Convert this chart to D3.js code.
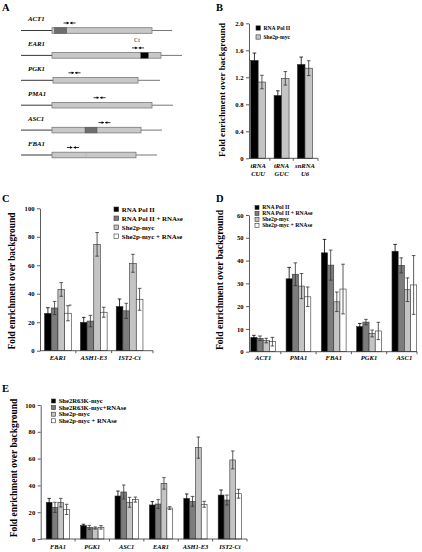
<!DOCTYPE html>
<html><head><meta charset="utf-8">
<script src="https://cdn.jsdelivr.net/npm/d3@7"></script>
<style>html,body{margin:0;padding:0;background:#fff;}svg{display:block;}</style>
</head><body>
<script>
// ---------- DATA ----------
// Panel A: gene diagrams (diagram units along the locus)
const genes = ["ACT1","EAR1","PGK1","PMA1","ASC1","FBA1"];
const locusEnd = [151,161,139,152,141,136];
const orfStart = [31,31,32,31,31,31];
const orfEnd   = [131,140,117,131,120,115];
const primerAt = [48.5,117,53.5,78.5,83.5,52];
const featGene = ["ACT1","EAR1","ASC1"];
const featStart = [33.5,119.7,64];
const featEnd   = [45.7,127.3,76];
const featKind  = ["dark","black","dark"];

// Panel B
const bCats = [["tRNA","CUU"],["tRNA","GUC"],["snRNA","U6"]];
const bSeries = ["RNA Pol II","She2p-myc"];
const bPolII = [1.45,0.93,1.39];
const bPolIIErr = [0.11,0.07,0.11];
const bShe2 = [1.13,1.185,1.335];
const bShe2Err = [0.10,0.10,0.11];
const bTicks = [0,0.4,0.8,1.2,1.6,2.0];

// Panel C
const cCats = ["EAR1","ASH1-E3","IST2-Ct"];
const cdSeries = ["RNA Pol II","RNA Pol II + RNAse","She2p-myc","She2p-myc + RNAse"];
const cPolII = [26.2,19.9,31.0];      const cPolIIErr = [4.0,3.5,5.3];
const cPolIIR = [30.0,20.8,28.0];     const cPolIIRErr = [4.6,4.0,5.3];
const cShe2 = [43.0,74.7,61.4];       const cShe2Err = [4.8,8.3,6.3];
const cShe2R = [26.3,27.0,36.1];      const cShe2RErr = [5.3,3.5,7.7];
const cTicks = [0,20,40,60,80,100];

// Panel D
const dCats = ["ACT1","PMA1","FBA1","PGK1","ASC1"];
const dPolII = [6.3,32.0,43.4,11.0,44.1];   const dPolIIErr = [0.9,5.0,5.9,1.4,3.0];
const dPolIIR = [5.9,34.0,38.0,13.0,37.9];  const dPolIIRErr = [1.0,5.0,6.6,1.2,3.3];
const dShe2 = [4.9,28.8,21.9,8.0,27.2];     const dShe2Err = [1.0,5.5,4.3,1.5,5.2];
const dShe2R = [4.4,24.1,27.5,9.1,29.3];    const dShe2RErr = [1.9,4.3,10.9,3.8,12.9];
const dTicks = [0,10,20,30,40,50,60];

// Panel E
const eCats = ["FBA1","PGK1","ASC1","EAR1","ASH1-E3","IST2-Ct"];
const eSeries = ["She2R63K-myc","She2R63K-myc+RNAse","She2p-myc","She2p-myc + RNAse"];
const eMut = [27.4,10.0,32.1,25.4,30.3,32.8];   const eMutErr = [2.9,1.0,3.7,2.5,3.3,3.8];
const eMutR = [23.6,8.7,35.1,26.1,28.1,29.1];   const eMutRErr = [3.8,1.5,5.2,3.3,3.7,3.7];
const eShe2 = [27.1,8.2,27.4,41.5,68.2,59.0];   const eShe2Err = [3.2,0.8,3.7,4.3,7.9,6.7];
const eShe2R = [22.1,8.7,29.4,23.1,25.9,33.8];  const eShe2RErr = [3.8,1.3,1.9,1.0,2.2,3.3];
const eTicks = [0,20,40,60,80,100];

const yTitle = "Fold enrichment over background";

// ---------- DRAWING ----------
const W = 422, H = 552;
const FONT = "'Liberation Serif','Times New Roman',Times,serif";
const svg = d3.select("body").append("svg").attr("width", W).attr("height", H)
  .style("font-family", FONT);
svg.append("rect").attr("width", W).attr("height", H).attr("fill", "#fff");

const fills4 = ["#000000","#7c7c7c","#c4c4c4","#ffffff"];
const fills2 = ["#000000","#c4c4c4"];

function panelLetter(t, x, y){
  svg.append("text").attr("x", x).attr("y", y).text(t)
    .attr("font-size", 10.5).attr("font-weight", "bold").attr("fill", "#000");
}

// Panel A
panelLetter("A", 2, 10.5);
(function(){
  const g = svg.append("g");
  const x = d3.scaleLinear().domain([0,161]).range([21,182]);
  const row = d3.scalePoint().domain(genes).range([30.5,155]);
  genes.forEach((name,i)=>{
    const yy = row(name);
    g.append("text").attr("x", 28).attr("y", yy-9.5).text(name)
      .attr("font-size", 6.8).attr("font-weight","bold").attr("font-style","italic");
    g.append("line").attr("x1", x(0)).attr("x2", x(orfStart[i])).attr("y1", yy).attr("y2", yy)
      .attr("stroke","#222").attr("stroke-width",0.9);
    g.append("line").attr("x1", x(orfEnd[i])).attr("x2", x(locusEnd[i])).attr("y1", yy).attr("y2", yy)
      .attr("stroke","#666").attr("stroke-width",0.9);
    g.append("rect").attr("x", x(orfStart[i])).attr("y", yy-2.8)
      .attr("width", x(orfEnd[i])-x(orfStart[i])).attr("height", 5.6)
      .attr("fill","#c8c8c8").attr("stroke","#7a7a7a").attr("stroke-width",0.8);
    // primer arrows
    const px = x(primerAt[i]), py = yy-7.5;
    const ar = (x1,x2)=>{
      g.append("line").attr("x1",x1).attr("x2",x2).attr("y1",py).attr("y2",py)
        .attr("stroke","#000").attr("stroke-width",0.8);
      const d = x2>x1 ? -1 : 1;
      g.append("path").attr("d",`M${x2},${py} L${x2+d*2.2},${py-1.4} L${x2+d*2.2},${py+1.4} Z`).attr("fill","#000");
    };
    ar(px-6, px-0.6); ar(px+6, px+0.6);
  });
  featGene.forEach((gn,k)=>{
    const yy = row(gn);
    g.append("rect").attr("x", x(featStart[k])).attr("y", yy-2.8)
      .attr("width", x(featEnd[k])-x(featStart[k])).attr("height", 5.6)
      .attr("fill", featKind[k]==="black" ? "#000" : "#6e6e6e")
      .attr("stroke","#555").attr("stroke-width",0.5);
  });
  // FBA1 faint divider
  g.append("line").attr("x1", x(65)).attr("x2", x(65)).attr("y1", row("FBA1")-2.8).attr("y2", row("FBA1")+2.8)
    .attr("stroke","#aaa").attr("stroke-width",0.5);
  g.append("text").attr("x", x(primerAt[1])-1).attr("y", row("EAR1")-13).text("Ct")
    .attr("font-size", 6.5).attr("text-anchor","middle").attr("fill","#333");
})();

function barPanel(o){
  const g = svg.append("g");
  const x0 = d3.scaleBand().domain(o.cats.map((c,i)=>i)).range(o.xr)
    .paddingInner(o.pi).paddingOuter(o.po).align(o.align ?? 0.5);
  const x1 = d3.scaleBand().domain(d3.range(o.vals.length)).range([0, x0.bandwidth()]);
  const y = d3.scaleLinear().domain(o.yd).range(o.yr);
  // y axis
  const ya = g.append("g").attr("transform", `translate(${o.ax},0)`)
    .call(d3.axisLeft(y).tickValues(o.ticks).tickFormat(o.fmt).tickSize(3).tickSizeOuter(0).tickPadding(2.5));
  ya.select(".domain").attr("stroke","#333").attr("stroke-width",0.8);
  ya.selectAll(".tick line").attr("stroke","#333").attr("stroke-width",0.8);
  ya.selectAll(".tick text").attr("font-family",FONT).attr("font-size",o.tickFs||6.6)
    .attr("font-weight","bold").attr("fill","#000");
  // bars
  o.vals.forEach((arr,s)=>{
    g.selectAll(null).data(arr).join("rect")
      .attr("x",(d,i)=>x0(i)+x1(s)).attr("width",x1.bandwidth())
      .attr("y",d=>y(d)).attr("height",d=>y(0)-y(d))
      .attr("fill",o.fills[s]).attr("stroke","#333").attr("stroke-width",0.6);
  });
  // error bars
  o.vals.forEach((arr,s)=>{
    const errs = o.errs[s];
    const cw = Math.min(3.6, x1.bandwidth()*0.6);
    arr.forEach((v,i)=>{
      const cx = x0(i)+x1(s)+x1.bandwidth()/2;
      const e = errs[i];
      const col = s===0 ? "#000" : "#333";
      g.append("line").attr("x1",cx).attr("x2",cx).attr("y1",y(v-e)).attr("y2",y(v+e))
        .attr("stroke",col).attr("stroke-width",0.8);
      [v-e, v+e].forEach(t=>{
        g.append("line").attr("x1",cx-cw/2).attr("x2",cx+cw/2).attr("y1",y(t)).attr("y2",y(t))
          .attr("stroke",col).attr("stroke-width",0.8);
      });
    });
  });
  // x axis baseline and slot ticks
  g.append("line").attr("x1",o.ax).attr("x2",o.xend).attr("y1",y(0)).attr("y2",y(0))
    .attr("stroke","#333").attr("stroke-width",0.8);
  const step = x0.step();
  o.cats.forEach((c,i)=>{
    if(i===0) return;
    const b = x0(i) - step*o.pi/2;
    g.append("line").attr("x1",b).attr("x2",b).attr("y1",y(0)).attr("y2",y(0)+2.5)
      .attr("stroke","#333").attr("stroke-width",0.8);
  });
  g.append("line").attr("x1",o.xend).attr("x2",o.xend).attr("y1",y(0)).attr("y2",y(0)+2.5)
    .attr("stroke","#333").attr("stroke-width",0.8);
  // category labels
  o.cats.forEach((c,i)=>{
    const cx = x0(i)+x0.bandwidth()/2;
    const lines = Array.isArray(c) ? c : [c];
    lines.forEach((ln,k)=>{
      g.append("text").attr("x",cx).attr("y",y(0)+o.labDy+k*7.6).text(ln)
        .attr("text-anchor","middle").attr("font-size",o.catFs||6.6)
        .attr("font-weight","bold").attr("font-style","italic");
    });
  });
  // y title
  g.append("text").attr("transform",`translate(${o.titleX},${o.titleY}) rotate(-90)`)
    .attr("text-anchor","middle").text(yTitle)
    .attr("font-size",o.titleFs).attr("font-weight","bold");
  // legend
  o.series.forEach((nm,s)=>{
    const ly = o.legY + s*o.legDy;
    g.append("rect").attr("x",o.legX).attr("y",ly-o.sq/2).attr("width",o.sq).attr("height",o.sq)
      .attr("fill",o.fills[s]).attr("stroke","#333").attr("stroke-width",0.6);
    g.append("text").attr("x",o.legX+o.sq+3.2).attr("y",ly+o.legFs*0.33).text(nm)
      .attr("font-size",o.legFs).attr("font-weight","bold");
  });
  return {x0,x1,y,g};
}

// Panel B
panelLetter("B", 216, 10.5);
barPanel({
  cats:bCats, vals:[bPolII,bShe2], errs:[bPolIIErr,bShe2Err], series:bSeries, fills:fills2,
  xr:[249,319.2], pi:0.36, po:0.18, align:0.2, xend:318,
  yd:[0,2.0], yr:[158.3,23.3], ax:249, ticks:bTicks, fmt:d=>d===0?"0":d3.format(".1f")(d),
  labDy:9.8, titleX:225, titleY:90, titleFs:9.2,
  legX:256, legY:28, legDy:9, sq:4.3, legFs:5.6
});

// Panel C
panelLetter("C", 2, 202);
const pc = barPanel({
  cats:cCats, vals:[cPolII,cPolIIR,cShe2,cShe2R], errs:[cPolIIErr,cPolIIRErr,cShe2Err,cShe2RErr],
  series:cdSeries, fills:fills4,
  xr:[40,147.5], pi:0.254, po:0.127, xend:153,
  yd:[0,100], yr:[350.7,208.3], ax:40, ticks:cTicks, fmt:d3.format("d"),
  labDy:9.6, titleX:15, titleY:281, titleFs:9.4,
  legX:114, legY:209.3, legDy:9, sq:4.6, legFs:6.9
});
// asterisk above EAR1 She2p-myc + RNAse
pc.g.append("text").attr("x", pc.x0(0)+pc.x1(3)+pc.x1.bandwidth()/2+2)
  .attr("y", pc.y(cShe2R[0]+cShe2RErr[0])+2.5).text("*")
  .attr("font-size",7).attr("text-anchor","middle").attr("fill","#444");

// Panel D
panelLetter("D", 216, 202);
barPanel({
  cats:dCats, vals:[dPolII,dPolIIR,dShe2,dShe2R], errs:[dPolIIErr,dPolIIRErr,dShe2Err,dShe2RErr],
  series:cdSeries, fills:fills4,
  xr:[245.5,422], pi:0.3, po:0.15, xend:417,
  yd:[0,60], yr:[351.7,215], ax:249, ticks:dTicks, fmt:d3.format("d"),
  labDy:8.6, titleX:223, titleY:280, titleFs:9.6,
  legX:255, legY:207.5, legDy:6, sq:4, legFs:5.7
});

// Panel E
panelLetter("E", 2, 392);
barPanel({
  cats:eCats, vals:[eMut,eMutR,eShe2,eShe2R], errs:[eMutErr,eMutRErr,eShe2Err,eShe2RErr],
  series:eSeries, fills:fills4,
  xr:[40.7,247], pi:0.323, po:0.161, xend:247,
  yd:[0,100], yr:[539,405], ax:40.7, ticks:eTicks, fmt:d3.format("d"),
  labDy:10.3, titleX:16.5, titleY:468, titleFs:9.5, catFs:6.4,
  legX:51.5, legY:401, legDy:6.6, sq:4, legFs:6.6
});
</script>
</body></html>
